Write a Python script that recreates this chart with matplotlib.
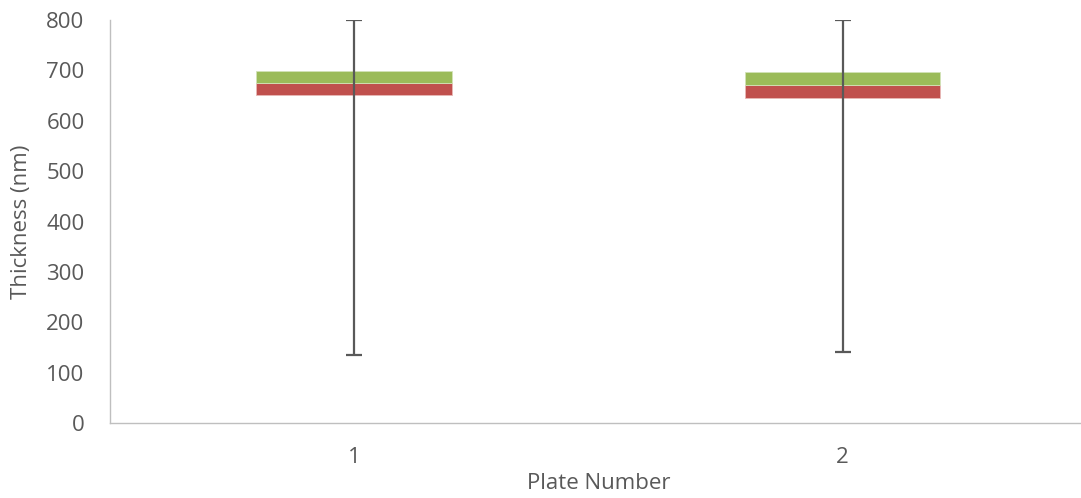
import matplotlib
matplotlib.use("Agg")
import matplotlib.pyplot as plt
import numpy as np

plates = ["1", "2"]
minimum = [134, 141]
q1 = [650.5, 645]
median = [675.5, 671]
q3 = [698.5, 697]
maximum = [800, 800]

plt.rcParams['font.family'] = ['Open Sans', 'DejaVu Sans']
gray = '#595959'

fig = plt.figure(figsize=(10.81, 4.98), dpi=100)
ax = fig.add_axes([109.5/1081, 75/498, (1087-109.5)/1081, (423-20)/498])

x = np.arange(1, len(plates) + 1)
q1a = np.array(q1); meda = np.array(median); q3a = np.array(q3)
mina = np.array(minimum); maxa = np.array(maximum)

ax.bar(x, meda - q1a, bottom=q1a, width=0.4, color='#C0504D', edgecolor='#E8B8B6', linewidth=0.6, zorder=2)
ax.bar(x, q3a - meda, bottom=meda, width=0.4, color='#9BBB59', edgecolor='#D3E3B8', linewidth=0.6, zorder=2)
ax.errorbar(x, meda, yerr=[meda - mina, maxa - meda], fmt='none', ecolor=gray,
            elinewidth=1.6, capsize=6, capthick=1.6, zorder=3)

ax.set_xlim(0.5, 2.5)
ax.set_ylim(0, 800)
ax.set_yticks(np.arange(0, 801, 100))
ax.set_xticks(x)
ax.set_xticklabels(plates)
ax.tick_params(axis='both', length=0, labelsize=16, colors=gray)
ax.tick_params(axis='y', pad=18)
ax.tick_params(axis='x', pad=17)
for s in ['top', 'right']:
    ax.spines[s].set_visible(False)
for s in ['left', 'bottom']:
    ax.spines[s].set_color('#BFBFBF')
    ax.spines[s].set_linewidth(1.0)

ax.set_ylabel('Thickness (nm)', fontsize=16, color=gray)
ax.set_xlabel('Plate Number', fontsize=16, color=gray)
ax.yaxis.set_label_coords(-88/977.5, 0.5)
ax.xaxis.set_label_coords(0.5, -60/403)
ax.xaxis.label.set_va('center')
ax.yaxis.label.set_va('center')

fig.savefig('out.png', dpi=100)
